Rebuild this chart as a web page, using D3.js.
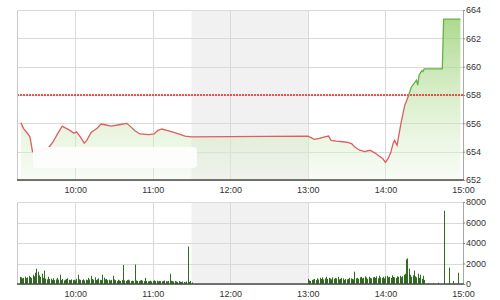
<!DOCTYPE html>
<html>
<head>
<meta charset="utf-8">
<script src="https://cdn.jsdelivr.net/npm/d3@7"></script>
<style>
  body { margin: 0; background: #fff; }
  svg text { font-family: "Liberation Sans", Arial, sans-serif; font-size: 9px; fill: #333; }
</style>
</head>
<body>
<div id="chart"></div>
<script>
// Preis-Daten (Uhrzeit, Index)
const priceTimes = ["9:18","9:20","9:23","9:25","9:27","9:31","9:36","9:40","9:43","9:46","9:50","9:52","9:56","9:59",
  "10:01","10:04","10:07","10:09","10:12","10:13","10:17","10:20","10:23","10:28","10:34","10:40","10:43","10:46","10:50","10:57",
  "11:01","11:04","11:07","11:11","11:15","11:20","11:25","11:30",
  "13:00","13:05","13:09","13:13","13:16","13:18","13:22","13:27","13:31","13:34","13:36","13:40","13:44","13:48","13:52","13:55","13:58",
  "14:00","14:02","14:04","14:06","14:07","14:09","14:10","14:12","14:15","14:16","14:18","14:20","14:22","14:24","14:25","14:26","14:28","14:29","14:30",
  "14:44","14:45","14:58"];
const priceValues = [656.05,655.65,655.3,655.05,654.0,654.0,654.1,654.35,654.7,655.2,655.8,655.7,655.5,655.3,
  655.4,655.05,654.6,654.8,655.3,655.4,655.65,655.95,655.9,655.8,655.9,656.0,655.75,655.5,655.25,655.2,
  655.25,655.5,655.6,655.5,655.4,655.25,655.1,655.05,
  655.1,654.87,654.94,655.05,655.1,654.8,654.75,654.7,654.65,654.55,654.35,654.1,654.0,654.1,653.9,653.7,653.5,
  653.25,653.5,653.9,654.6,654.8,654.45,654.95,656.0,657.3,657.5,658.0,658.55,658.8,659.05,658.7,659.4,659.7,659.65,659.85,
  659.85,663.35,663.35];
const referencePrice = 658;

// Volumen pro Minute: Vormittag ab 9:17, Nachmittag ab 13:00
const morningStart = "9:17";
const morningVol = [700,650,550,600,720,580,640,800,680,600,
  900,750,1100,1500,1200,850,700,1000,600,1300,
  520,450,700,480,520,400,560,380,450,600,
  420,900,380,500,350,420,480,560,400,380,
  450,380,420,350,500,900,460,400,380,450,
  350,420,380,600,450,800,500,420,650,380,
  450,550,400,380,900,620,450,500,380,420,
  350,400,800,450,380,300,420,350,300,380,
  1850,350,300,380,420,350,280,320,300,1900,
  350,300,280,350,400,320,280,600,300,250,
  280,320,250,300,350,280,320,250,300,280,
  250,300,350,280,250,300,1000,320,280,250,
  300,250,200,280,220,180,250,200,150,250,
  3650,200,300,150];
const afternoonStart = "13:00";
const afternoonVol = [500,350,300,400,450,500,380,550,450,600,
  500,650,450,550,700,500,600,550,450,650,
  500,600,550,700,450,500,600,550,400,500,
  450,500,600,550,500,450,1200,550,600,500,
  650,700,550,600,750,650,500,700,600,550,
  650,700,600,750,550,800,650,600,700,550,
  750,800,650,700,600,850,700,650,600,750,
  700,800,650,750,900,1000,2400,2500,1500,900,
  700,850,1300,750,650,1000,600,900,500,800,
  400];
const lateTimes = ["14:33","14:37","14:41","14:45","14:49","14:52","14:56"];
const lateVol = [100,80,120,7150,1600,300,1100];

const hourTicks = ["10:00","11:00","12:00","13:00","14:00","15:00"];
const priceTicks = [652,654,656,658,660,662,664];
const volTicks = [0,2000,4000,6000,8000];
const lunch = ["11:30","13:00"];

const parseT = s => { const [h, m] = s.split(":").map(Number); return new Date(2000, 0, 1, h, m); };

const width = 500, height = 300;
const left = 17, right = 463;
const top1 = 10, bottom1 = 180;
const top2 = 202, bottom2 = 284;

const svg = d3.select("#chart").append("svg")
  .attr("width", width).attr("height", height);

const x = d3.scaleTime().domain([parseT("9:15"), parseT("15:00")]).range([left, right]);
const yP = d3.scaleLinear().domain([652, 664]).range([bottom1, top1]);
const yV = d3.scaleLinear().domain([0, 8000]).range([bottom2, top2]);

const priceData = priceTimes.map((t, i) => ({ t: parseT(t), v: priceValues[i] }));
const volData = [];
morningVol.forEach((v, i) => volData.push({ t: d3.timeMinute.offset(parseT(morningStart), i), v }));
afternoonVol.forEach((v, i) => volData.push({ t: d3.timeMinute.offset(parseT(afternoonStart), i), v }));
lateTimes.forEach((t, i) => volData.push({ t: parseT(t), v: lateVol[i] }));

const defs = svg.append("defs");
const grad = defs.append("linearGradient").attr("id", "fillGrad")
  .attr("gradientUnits", "userSpaceOnUse")
  .attr("x1", 0).attr("x2", 0).attr("y1", top1).attr("y2", bottom1);
grad.append("stop").attr("offset", 0).attr("stop-color", "#8fcd66").attr("stop-opacity", 0.8);
grad.append("stop").attr("offset", 0.5).attr("stop-color", "#b9e09f").attr("stop-opacity", 0.55);
grad.append("stop").attr("offset", 1).attr("stop-color", "#e9f5e1").attr("stop-opacity", 0.35);

defs.append("clipPath").attr("id", "above").append("rect")
  .attr("x", left).attr("width", right - left).attr("y", top1 - 5).attr("height", yP(referencePrice) - top1 + 5);
defs.append("clipPath").attr("id", "below").append("rect")
  .attr("x", left).attr("width", right - left).attr("y", yP(referencePrice)).attr("height", bottom1 - yP(referencePrice) + 5);

// Mittagspause grau hinterlegt, in beiden Panels
[[top1, bottom1], [top2, bottom2]].forEach(([t, b]) => {
  svg.append("rect")
    .attr("x", x(parseT(lunch[0]))).attr("width", x(parseT(lunch[1])) - x(parseT(lunch[0])))
    .attr("y", t).attr("height", b - t)
    .attr("fill", "#f1f1f1");
});

// Gitternetz
const grid = svg.append("g").attr("stroke", "#dadada").attr("stroke-width", 1);
hourTicks.slice(0, -1).forEach(h => {
  const xx = Math.round(x(parseT(h))) + 0.5;
  grid.append("line").attr("x1", xx).attr("x2", xx).attr("y1", top1).attr("y2", bottom1);
  grid.append("line").attr("x1", xx).attr("x2", xx).attr("y1", top2).attr("y2", bottom2);
});
priceTicks.forEach(p => {
  const yy = Math.round(yP(p)) + 0.5;
  grid.append("line").attr("x1", left).attr("x2", right).attr("y1", yy).attr("y2", yy);
});
volTicks.forEach(v => {
  const yy = Math.round(yV(v)) + 0.5;
  grid.append("line").attr("x1", left).attr("x2", right).attr("y1", yy).attr("y2", yy);
});

// Fläche unter der Kurve
svg.append("path").attr("d", d3.area().x(d => x(d.t)).y0(bottom1).y1(d => yP(d.v))(priceData))
  .attr("fill", "url(#fillGrad)");

// Referenzlinie
svg.append("line")
  .attr("x1", left).attr("x2", right)
  .attr("y1", yP(referencePrice)).attr("y2", yP(referencePrice))
  .attr("stroke", "#f02020").attr("stroke-width", 1.5).attr("stroke-dasharray", "2,1");

// Kurve: rot unter, grün über der Referenz
const line = d3.line().x(d => x(d.t)).y(d => yP(d.v));
svg.append("path").attr("d", line(priceData)).attr("fill", "none")
  .attr("stroke", "#dc5f5f").attr("stroke-width", 1.3).attr("clip-path", "url(#below)");
svg.append("path").attr("d", line(priceData)).attr("fill", "none")
  .attr("stroke", "#67b044").attr("stroke-width", 1.3).attr("clip-path", "url(#above)");

// der weisse Fleck unten links im Bild (deckt die Kurve ab)
svg.append("rect")
  .attr("x", 33).attr("y", 147).attr("width", 164).attr("height", 21).attr("rx", 4)
  .attr("fill", "#fdfefc").attr("opacity", 0.95);

// Volumen-Balken
svg.append("g").selectAll("rect").data(volData).join("rect")
  .attr("x", d => Math.round(x(d.t)))
  .attr("width", 1)
  .attr("y", d => yV(d.v))
  .attr("height", d => bottom2 - yV(d.v))
  .attr("fill", "#2f6b20");

// Rahmen
[[top1, bottom1], [top2, bottom2]].forEach(([t, b]) => {
  svg.append("line").attr("x1", left + 0.5).attr("x2", left + 0.5).attr("y1", t).attr("y2", b).attr("stroke", "#c8c8c8");
  svg.append("line").attr("x1", right + 0.5).attr("x2", right + 0.5).attr("y1", t).attr("y2", b).attr("stroke", "#a8a8a8");
  svg.append("line").attr("x1", left).attr("x2", right).attr("y1", t + 0.5).attr("y2", t + 0.5).attr("stroke", "#dadada");
  svg.append("line").attr("x1", left).attr("x2", right + 1).attr("y1", b).attr("y2", b).attr("stroke", "#4a4a4a").attr("stroke-width", 1.5);
});

// Achsen
const hourDates = hourTicks.map(parseT);
const xAxis = d3.axisBottom(x).tickValues(hourDates).tickFormat(d3.timeFormat("%H:%M")).tickSize(0).tickPadding(7);
svg.append("g").attr("transform", `translate(0, ${bottom1})`).call(xAxis).call(g => g.select(".domain").remove());
svg.append("g").attr("transform", `translate(0, ${bottom2})`).call(xAxis).call(g => g.select(".domain").remove());

const pAxis = d3.axisRight(yP).tickValues(priceTicks).tickSize(2).tickPadding(1);
svg.append("g").attr("transform", `translate(${right}, 0)`).call(pAxis)
  .call(g => g.select(".domain").remove())
  .call(g => g.selectAll("line").attr("stroke", "#888"));
const vAxis = d3.axisRight(yV).tickValues(volTicks).tickFormat(d3.format("d")).tickSize(2).tickPadding(1);
svg.append("g").attr("transform", `translate(${right}, 0)`).call(vAxis)
  .call(g => g.select(".domain").remove())
  .call(g => g.selectAll("line").attr("stroke", "#888"));
svg.selectAll(".tick text").attr("font-family", null).attr("font-size", null);
</script>
</body>
</html>
